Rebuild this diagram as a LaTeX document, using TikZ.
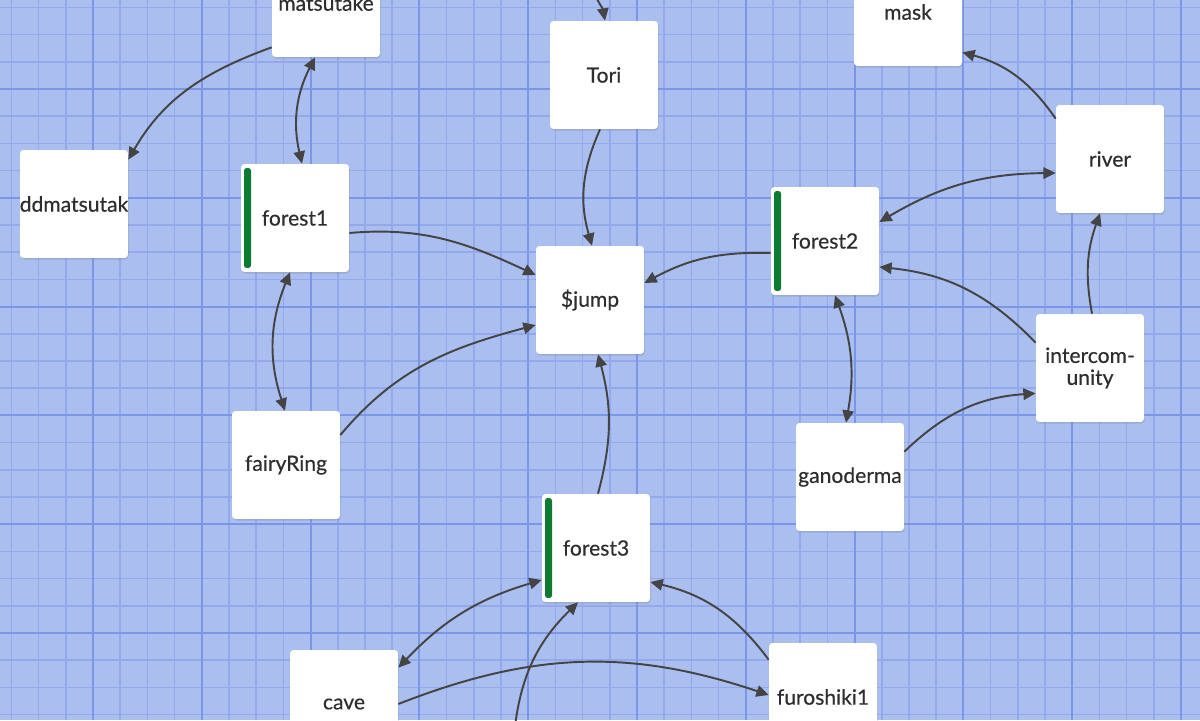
\documentclass[tikz,border=0pt]{standalone}
\usepackage{fontspec}
\setmainfont{Lato}
\newfontfamily\cardfont{Lato}[FakeBold=0.4]
\usetikzlibrary{arrows.meta,positioning,shadows}
\definecolor{gridbg}{HTML}{AABFEF}
\definecolor{gridminor}{HTML}{93A9EC}
\definecolor{gridmajor}{HTML}{7B96E6}
\definecolor{cardink}{HTML}{2E2E2E}
\definecolor{linkgray}{HTML}{444444}
\definecolor{forestbar}{HTML}{0F7A32}
\tikzset{
  cardtext/.style={text=cardink,font=\cardfont\fontsize{12}{12.5}\selectfont},
  card/.style={cardtext,fill=white,rounded corners=2pt,minimum width=2.16cm,
               minimum height=2.16cm,inner sep=0pt,align=center,
               drop shadow={shadow xshift=0.4pt,shadow yshift=-0.9pt,opacity=0.3}},
  forestcard/.style={card,path picture={
      \fill[forestbar,rounded corners=1.5pt]
        ([xshift=0.06cm,yshift=-0.08cm]path picture bounding box.north west)
        rectangle ([xshift=0.2cm,yshift=0.08cm]path picture bounding box.south west);}},
  link/.style={-{Triangle[length=7pt,width=6.5pt]},line width=1.1pt,draw=linkgray},
  duallink/.style={{Triangle[length=7pt,width=6.5pt]}-{Triangle[length=7pt,width=6.5pt]},
                   line width=1.1pt,draw=linkgray},
  minorgrid/.style={draw=gridminor,line width=0.85pt},
  majorgrid/.style={draw=gridmajor,line width=1.1pt}
}

\begin{document}
\begin{tikzpicture}[x=0.02cm,y=0.02cm]
    \useasboundingbox (0,0) rectangle (1200,-720);
    \clip (0,0) rectangle (1200,-720);
    % grid
    \fill[gridbg] (0,0) rectangle (1200,-720);
    \foreach \i in {0,...,44}
      \draw[minorgrid] ({11.4+27.2*\i},0) -- ++(0,-720);
    \foreach \j in {0,...,26}
      \draw[minorgrid] (0,{-7.4-27.2*\j}) -- ++(1200,0);
    \foreach \i in {0,...,11}
      \draw[majorgrid] ({-15.8+108.8*\i},0) -- ++(0,-720);
    \foreach \j in {0,...,7}
      \draw[majorgrid] (0,{19.8-108.8*\j}) -- ++(1200,0);

    \node[card] (matsutake) at (326,-3) {matsutake};
    \node[card] (ddmatsu) at (74,-204) {};
    \begin{scope}
      \clip (ddmatsu.north west) rectangle (ddmatsu.south east);
      \node[cardtext] (ddmatsulabel) at (ddmatsu) {ddmatsutak};
    \end{scope}
    \node[forestcard] (forest1) at (295,-218) {forest1};
    \node[card] (tori) at (604,-75) {Tori};
    \node[card] (jump) at (590,-300) {\$jump};
    \node[forestcard] (forest2) at (825,-241) {forest2};
    \node[card] (mask) at (908,-12) {mask};
    \node[card] (river) at (1110,-159) {river};
    \node[card] (intercom) at (1090,-368) {intercom-\\unity};
    \node[card] (ganoderma) at (850,-477) {ganoderma};
    \node[card] (fairyring) at (286,-465) {fairyRing};
    \node[forestcard] (forest3) at (596,-548) {forest3};
    \node[card] (cave) at (344,-704) {cave};
    \node[card] (furoshiki) at (823,-697) {furoshiki1};

    \coordinate (toriin) at (594,10);
    \coordinate (forest3in) at (514,-735);

    \draw[link] ([shift={(0,10)}]matsutake.south west) to[out=200,in=60]
      ([shift={(0,-10)}]ddmatsu.north east);
    \draw[duallink] ([shift={(-11,0)}]matsutake.south) to[bend right=20]
      ([shift={(7,0)}]forest1.north);
    \draw[link] ([shift={(0,-15)}]forest1.east) to[out=5,in=155]
      ([shift={(0,25)}]jump.west);
    \draw[duallink] ([shift={(-5,0)}]forest1.south) to[bend right=20]
      ([shift={(-1,0)}]fairyring.north);
    \draw[link] ([shift={(-4,0)}]tori.south) to[bend right=20]
      ([shift={(2,0)}]jump.north);
    \draw[link] (toriin) to[out=-75,in=100] ([shift={(1,0)}]tori.north);
    \draw[link] ([shift={(0,30)}]fairyring.east) to[out=50,in=195]
      ([shift={(0,-25)}]jump.west);
    \draw[link] ([shift={(0,-12)}]forest2.west) to[bend right=15]
      ([shift={(0,17)}]jump.east);
    \draw[duallink] ([shift={(0,19)}]forest2.east) to[bend left=15]
      ([shift={(0,-14)}]river.west);
    \draw[link] ([shift={(0,-14)}]river.north west) to[bend right=20]
      ([shift={(0,14)}]mask.south east);
    \draw[link] ([shift={(0,-29)}]intercom.north west) to[bend right=20]
      ([shift={(0,-26)}]forest2.east);
    \draw[link] ([shift={(2,0)}]intercom.north) to[bend left=15]
      ([shift={(-10,0)}]river.south);
    \draw[link] ([shift={(0,-29)}]ganoderma.north east) to[bend left=20]
      ([shift={(0,29)}]intercom.south west);
    \draw[duallink] ([shift={(10,0)}]forest2.south) to[bend left=15]
      ([shift={(-4,0)}]ganoderma.north);
    \draw[link] ([shift={(2,0)}]forest3.north) to[bend right=15]
      ([shift={(8,0)}]jump.south);
    \draw[duallink] ([shift={(0,-32)}]forest3.west) to[bend right=15]
      ([shift={(0,-18)}]cave.north east);
    \draw[link] ([shift={(0,-17)}]furoshiki.north west) to[bend right=20]
      ([shift={(0,-34)}]forest3.east);
    \draw[link] (cave.east) to[bend left=20] ([shift={(0,2)}]furoshiki.west);
    \draw[link] (forest3in) to[bend left=20] ([shift={(-18,0)}]forest3.south);
  \end{tikzpicture}
\end{document}
